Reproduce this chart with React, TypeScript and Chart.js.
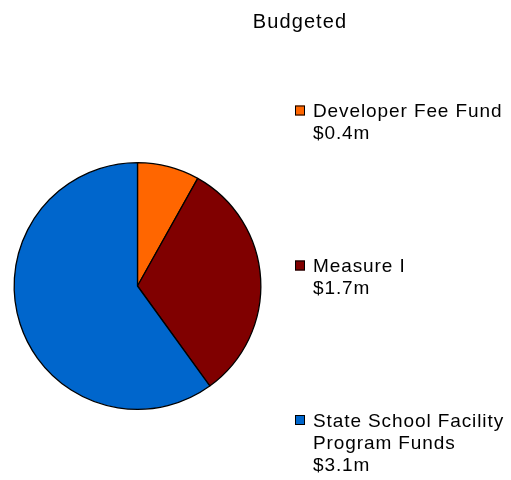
import React, { useEffect, useRef } from "react";
import { Chart, registerables } from "chart.js";

Chart.register(...registerables);

const title = "Budgeted";
const categories = [["Developer Fee Fund"], ["Measure I"], ["State School Facility", "Program Funds"]];
const values = [0.42, 1.65, 3.1];
const valueLabels = ["$0.4m", "$1.7m", "$3.1m"];
const colors = ["#FF6600", "#800000", "#0066CC"];

const legendPlugin = {
  id: "customLegend",
  afterDraw(chart: any) {
    const ctx = chart.ctx as CanvasRenderingContext2D;
    ctx.save();
    ctx.fillStyle = "#000";
    ctx.textBaseline = "alphabetic";
    ctx.textAlign = "center";
    ctx.font = "20px 'Liberation Sans', Arial, sans-serif";
    (ctx as any).letterSpacing = "1.1px";
    ctx.fillText(title, 300, 28);

    ctx.textAlign = "left";
    ctx.font = "19px 'Liberation Sans', Arial, sans-serif";
    (ctx as any).letterSpacing = "0.9px";
    const firstBaselines = [117, 272, 426.5];
    const lineH = 22;
    categories.forEach((lines, i) => {
      const b = firstBaselines[i];
      ctx.fillStyle = colors[i];
      ctx.fillRect(295, b - 11.5, 10, 10);
      ctx.strokeStyle = "#000";
      ctx.lineWidth = 1;
      ctx.strokeRect(295.5, b - 11, 9, 9);
      ctx.fillStyle = "#000";
      const all = [...lines, valueLabels[i]];
      all.forEach((t, j) => ctx.fillText(t, 313, b + j * lineH));
    });
    ctx.restore();
  },
};

export default function App() {
  const ref = useRef<HTMLCanvasElement>(null);
  useEffect(() => {
    if (!ref.current) return;
    const chart = new Chart(ref.current, {
      type: "pie",
      data: {
        labels: categories.map((c) => c.join(" ")),
        datasets: [
          {
            data: values,
            backgroundColor: colors,
            borderColor: "#000",
            borderWidth: 1.3,
          },
        ],
      },
      options: {
        responsive: false,
        animation: false,
        layout: { padding: { left: 13, right: 249, top: 162, bottom: 70 } },
        plugins: {
          legend: { display: false },
          title: { display: false },
          tooltip: { enabled: false },
        },
      },
      plugins: [legendPlugin],
    });
    return () => chart.destroy();
  }, []);
  return (
    <div style={{ position: "absolute", left: 0, top: 0, width: 511, height: 480, background: "#fff" }}>
      <canvas ref={ref} width={511} height={480} />
    </div>
  );
}
